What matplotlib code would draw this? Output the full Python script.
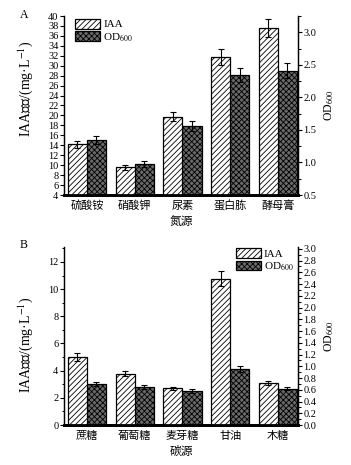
import matplotlib
matplotlib.use("Agg")
import matplotlib.pyplot as plt
import numpy as np
from matplotlib.ticker import MultipleLocator

plt.rcParams['font.family'] = ['Liberation Serif', 'Noto Sans CJK SC']
plt.rcParams['hatch.linewidth'] = 0.6
plt.rcParams['mathtext.fontset'] = 'stix'

# Panel A: nitrogen sources
cats_a = ['硫酸铵', '硝酸钾', '尿素', '蛋白胨', '酵母膏']
iaa_a = [14.2, 9.6, 19.7, 31.7, 37.6]
iaa_a_err = [0.7, 0.5, 0.9, 1.6, 1.8]
od_a = [1.34, 0.98, 1.56, 2.34, 2.41]
od_a_err = [0.06, 0.05, 0.07, 0.11, 0.12]

# Panel B: carbon sources
cats_b = ['蔗糖', '葡萄糖', '麦芽糖', '甘油', '木糖']
iaa_b = [5.02, 3.77, 2.69, 10.75, 3.08]
iaa_b_err = [0.3, 0.17, 0.1, 0.55, 0.17]
od_b = [0.70, 0.65, 0.58, 0.955, 0.62]
od_b_err = [0.04, 0.03, 0.03, 0.05, 0.03]

fig = plt.figure(figsize=(3.51, 4.65), dpi=100)
W, H = 351, 465

def make_axes(top, bottom):
    left, right = 64, 298
    return fig.add_axes([left / W, 1 - bottom / H, (right - left) / W, (bottom - top) / H])

bw = 0.4
iaa_style = dict(facecolor='white', edgecolor='black', hatch='//////', linewidth=0.9)
od_style = dict(facecolor='#6a6a6a', edgecolor='black', hatch='xxxxxx', linewidth=0.9)
err_style = dict(ecolor='black', elinewidth=0.8, capsize=2.0, capthick=0.8)

def panel(ax, cats, iaa, iaa_err, od, od_err, ylim_l, ylim_r, lmaj, lmin, rmaj, rmin, xlabel,
          leg_loc, leg_anchor, ylab_y):
    x = np.arange(len(cats))
    ax2 = ax.twinx()
    b1 = ax.bar(x - bw / 2, iaa, bw, yerr=iaa_err, error_kw=err_style, **iaa_style)
    b2 = ax2.bar(x + bw / 2, od, bw, yerr=od_err, error_kw=err_style, **od_style)
    ax.set_xlim(-0.48, 4.42)
    ax.set_ylim(*ylim_l)
    ax2.set_ylim(*ylim_r)
    ax.yaxis.set_major_locator(MultipleLocator(lmaj))
    ax2.yaxis.set_major_locator(MultipleLocator(rmaj))
    if lmin:
        ax.yaxis.set_minor_locator(MultipleLocator(lmin))
    if rmin:
        ax2.yaxis.set_minor_locator(MultipleLocator(rmin))
    ax2.yaxis.set_major_formatter(matplotlib.ticker.FormatStrFormatter('%.1f'))
    for a in (ax, ax2):
        a.spines['top'].set_visible(False)
        a.spines['left'].set_linewidth(0.9)
        a.spines['right'].set_linewidth(0.9)
        a.spines['bottom'].set_linewidth(2.0)
        a.tick_params(axis='y', which='major', direction='out', length=3, width=0.8, labelsize=7.5, pad=1)
        a.tick_params(axis='y', which='minor', direction='out', length=1.8, width=0.7)
    ax.set_xticks(x)
    ax.set_xticklabels(cats, fontsize=8)
    ax.tick_params(axis='x', length=0, pad=4)
    ax.set_xlabel(xlabel, fontsize=8.5, labelpad=4)
    ax.set_ylabel('IAA产量/(mg·L$^{-1}$)', fontsize=10)
    ax.yaxis.set_label_coords(-0.125, ylab_y)
    ax2.set_ylabel('OD$_{600}$', fontsize=8.5, labelpad=4)
    ax.set_zorder(ax2.get_zorder() + 1)
    ax.patch.set_visible(False)
    ax.legend([b1, b2], ['IAA', 'OD$_{600}$'], loc=leg_loc, bbox_to_anchor=leg_anchor,
              frameon=False, fontsize=8, handlelength=2.2, handleheight=1.0,
              handletextpad=0.3, labelspacing=0.15, borderaxespad=0)
    return ax2

axA = make_axes(16, 195)
panel(axA, cats_a, iaa_a, iaa_a_err, od_a, od_a_err, (4, 40), (0.5, 3.25), 2, None, 0.5, 0.25,
      '氮源', 'upper left', (0.03, 1.01), 0.59)
axB = make_axes(247, 425)
panel(axB, cats_b, iaa_b, iaa_b_err, od_b, od_b_err, (0, 13.1), (0, 3.03), 2, 1, 0.2, 0.1,
      '碳源', 'upper right', (1.0, 1.02), 0.45)

fig.text(20 / W, 1 - 15 / H, 'A', fontsize=8.5, ha='left', va='center')
fig.text(20 / W, 1 - 245 / H, 'B', fontsize=8.5, ha='left', va='center')

fig.savefig('out.png', dpi=100)
